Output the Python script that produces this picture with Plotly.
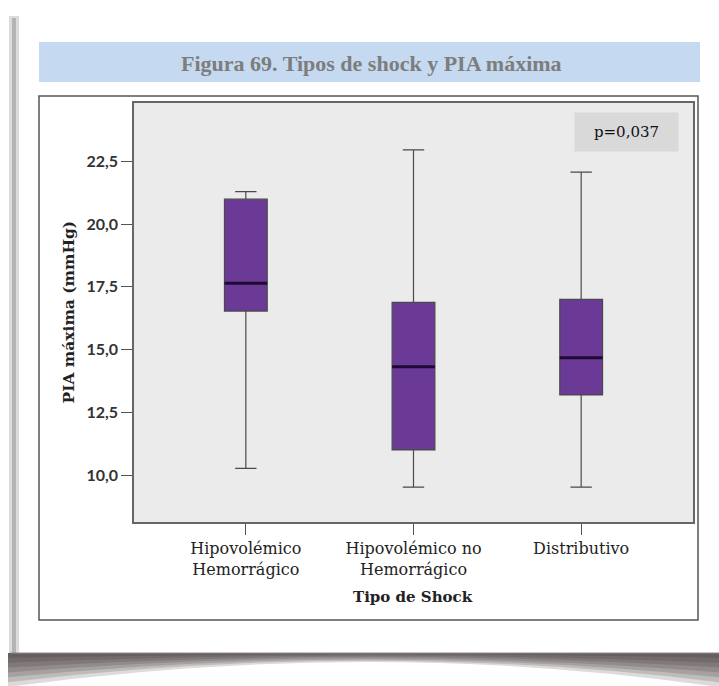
import plotly.graph_objects as go

# ---- data ----
categories = ["Hipovolémico<br>Hemorrágico", "Hipovolémico no<br>Hemorrágico", "Distributivo"]
lower_whisker = [10.27, 9.52, 9.52]
q1_values = [16.53, 11.00, 13.19]
median_values = [17.64, 14.31, 14.67]
q3_values = [20.99, 16.88, 17.00]
upper_whisker = [21.29, 22.95, 22.07]
y_ticks = [10.0, 12.5, 15.0, 17.5, 20.0, 22.5]

title_text = "Figura 69. Tipos de shock y PIA máxima"
y_title = "PIA máxima (mmHg)"
x_title = "Tipo de Shock"
p_text = "p=0,037"

# ---- geometry helpers (pixel -> paper) ----
W_FIG, H_FIG = 719, 686
L, R, T, B = 134, 693, 103, 522
PW, PH = R - L, B - T


def px(x):
    return (x - L) / PW


def py(y):
    return (B - y) / PH


box_width = 0.255
xpos = list(range(len(categories)))

fig = go.Figure()
fig.add_trace(go.Box(
    x=xpos,
    q1=q1_values,
    median=median_values,
    q3=q3_values,
    lowerfence=lower_whisker,
    upperfence=upper_whisker,
    width=box_width,
    whiskerwidth=0.5,
    fillcolor="#6b3a97",
    line=dict(color="#4a4a4a", width=1.2),
    boxpoints=False,
    showlegend=False,
    hoverinfo="skip",
))

# thicker median lines
mx, my = [], []
for xi, m in zip(xpos, median_values):
    mx += [xi - box_width / 2, xi + box_width / 2, None]
    my += [m, m, None]
fig.add_trace(go.Scatter(x=mx, y=my, mode="lines",
                         line=dict(color="#1f0a35", width=3),
                         showlegend=False, hoverinfo="skip"))

shapes = []
# left page shadow
shapes.append(dict(type="rect", xref="paper", yref="paper",
                   x0=px(9), x1=px(19), y0=py(653), y1=py(16),
                   line=dict(width=0), fillcolor="#dcdcdc", layer="below"))
shapes.append(dict(type="rect", xref="paper", yref="paper",
                   x0=px(12), x1=px(16), y0=py(653), y1=py(18),
                   line=dict(width=0), fillcolor="#b4b4b4", layer="below"))

# bottom page shadow: layered curved bands to fake a gradient
TOP = 653
N_LAYERS = 7
for k in range(1, N_LAYERS + 1):
    d_edge = 34 * k / N_LAYERS
    d_mid = 9 * k / N_LAYERS
    ctrl = TOP + 2 * d_mid - d_edge
    path = (f"M {px(8)},{py(TOP)} L {px(719)},{py(TOP)} "
            f"L {px(719)},{py(TOP + d_edge)} Q {px(370)},{py(ctrl)} {px(8)},{py(TOP + d_edge)} Z")
    shapes.append(dict(type="path", xref="paper", yref="paper", path=path,
                       line=dict(width=0), fillcolor="rgba(45,38,38,0.17)", layer="below"))
shapes.append(dict(type="line", xref="paper", yref="paper",
                   x0=px(10), x1=px(719), y0=py(653), y1=py(653),
                   line=dict(color="#8a8a8a", width=1), layer="below"))

# title band
shapes.append(dict(type="rect", xref="paper", yref="paper",
                   x0=px(39), x1=px(700), y0=py(82), y1=py(42),
                   line=dict(width=0), fillcolor="#c5d9f0", layer="below"))
# outer chart frame
shapes.append(dict(type="rect", xref="paper", yref="paper",
                   x0=px(39), x1=px(698), y0=py(620), y1=py(96),
                   line=dict(color="#555555", width=1.5), fillcolor="rgba(0,0,0,0)",
                   layer="below"))

annotations = [
    dict(text=f"<b>{title_text}</b>", xref="paper", yref="paper",
         x=px(371), y=py(63), xanchor="center", yanchor="middle", showarrow=False,
         font=dict(family="Liberation Serif", size=22, color="#7d7d7d")),
    dict(text=f"<b>{y_title}</b>", xref="paper", yref="paper",
         x=px(68), y=0.5, xanchor="center", yanchor="middle", showarrow=False,
         textangle=-90,
         font=dict(family="DejaVu Serif", size=15.5, color="#222222")),
    dict(text=f"<b>{x_title}</b>", xref="paper", yref="paper",
         x=px(413), y=py(597), xanchor="center", yanchor="middle", showarrow=False,
         font=dict(family="DejaVu Serif", size=15, color="#222222")),
    dict(text=p_text, xref="paper", yref="paper",
         x=px(626.5), y=py(132), xanchor="center", yanchor="middle", showarrow=False,
         width=103, height=38, bgcolor="#d9d9d9", borderpad=0,
         font=dict(family="DejaVu Serif", size=15, color="#111111")),
]

fig.update_layout(
    width=W_FIG, height=H_FIG,
    margin=dict(l=L, r=W_FIG - R, t=T, b=H_FIG - B),
    paper_bgcolor="white",
    plot_bgcolor="#ebebeb",
    separators=",.",
    shapes=shapes,
    annotations=annotations,
    showlegend=False,
    xaxis=dict(
        range=[-0.667, 2.667],
        tickvals=xpos, ticktext=categories,
        ticks="outside", ticklen=11, tickcolor="#555555", tickwidth=1.2,
        showgrid=False, zeroline=False,
        showline=True, linecolor="#666666", linewidth=1.5, mirror=True,
        tickfont=dict(family="DejaVu Serif", size=16, color="#222222"),
    ),
    yaxis=dict(
        range=[8.13, 24.82],
        tickvals=y_ticks, tickformat=".1f",
        ticks="outside", ticklen=11, tickcolor="#555555", tickwidth=1.2,
        showgrid=False, zeroline=False,
        showline=True, linecolor="#666666", linewidth=1.5, mirror=True,
        tickfont=dict(family="Lato", size=16, color="#333333", weight="bold"),
    ),
)

fig.write_html("out.html")
